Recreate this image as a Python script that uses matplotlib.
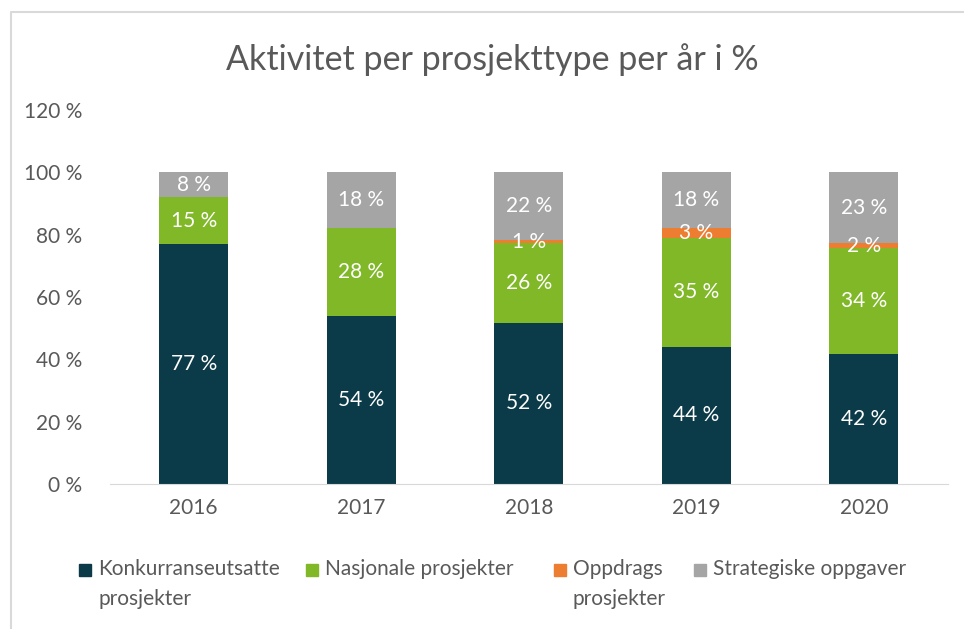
import numpy as np
import matplotlib.pyplot as plt
from matplotlib.lines import Line2D
from matplotlib.patches import Rectangle

plt.rcParams['font.family'] = ['Lato', 'DejaVu Sans']

# data
years = ['2016', '2017', '2018', '2019', '2020']
konkurranse = [77, 54, 51.8, 44, 41.8]
nasjonale = [15, 28, 25.6, 35, 33.8]
oppdrag = [0, 0, 0.8, 3, 1.8]
strategiske = [8, 18, 21.8, 18, 22.6]

series = [
    ('Konkurranseutsatte\nprosjekter', konkurranse, '#0B3A48'),
    ('Nasjonale prosjekter', nasjonale, '#80B828'),
    ('Oppdrags\nprosjekter', oppdrag, '#ED7D31'),
    ('Strategiske oppgaver', strategiske, '#A5A5A5'),
]
txt = '#595959'
W, H = 964, 629

fig = plt.figure(figsize=(W / 100, H / 100), dpi=100)
ax = fig.add_axes([0.114, 0.2305, 0.869, 0.5946])

x = np.arange(len(years))
bottom = np.zeros(len(years))
for name, vals, col in series:
    vals = np.array(vals, dtype=float)
    ax.bar(x, vals, 0.41, bottom=bottom, color=col, label=name)
    for xi, b, v in zip(x, bottom, vals):
        if v > 0:
            ax.text(xi, b + v / 2, f'{round(v):d} %', ha='center', va='center',
                    color='white', fontsize=15)
    bottom += vals

ax.set_xlim(-0.5, len(years) - 0.5)
ax.set_ylim(0, 120)
ax.set_yticks(range(0, 121, 20))
ax.set_yticklabels([f'{v} %' for v in range(0, 121, 20)])
ax.set_xticks(x)
ax.set_xticklabels(years)
ax.tick_params(length=0, labelsize=15, colors=txt, pad=10)
ax.tick_params(axis='y', pad=20)
for s in ['top', 'right', 'left']:
    ax.spines[s].set_visible(False)
ax.spines['bottom'].set_color('#D9D9D9')

fig.text(0.511, 0.905, 'Aktivitet per prosjekttype per år i %', ha='center',
         va='center', fontsize=24.5, color=txt)

# legend below the plot, marker aligned with first text line
marker_x = [79, 306, 554, 694]
for (name, vals, col), mx in zip(series, marker_x):
    fig.add_artist(Rectangle((mx / W, 1 - 576 / H), 12 / W, 12 / H,
                             transform=fig.transFigure, color=col))
    fig.text((mx + 19) / W, 1 - 559 / H, name, ha='left', va='top',
             fontsize=15, color=txt, linespacing=1.6)

# outer border (left and top)
fig.add_artist(Line2D([11 / W, 11 / W, 1], [0, 1 - 12 / H, 1 - 12 / H],
                      transform=fig.transFigure, color='#D9D9D9', lw=1.5))

fig.savefig('out.png', dpi=100)
